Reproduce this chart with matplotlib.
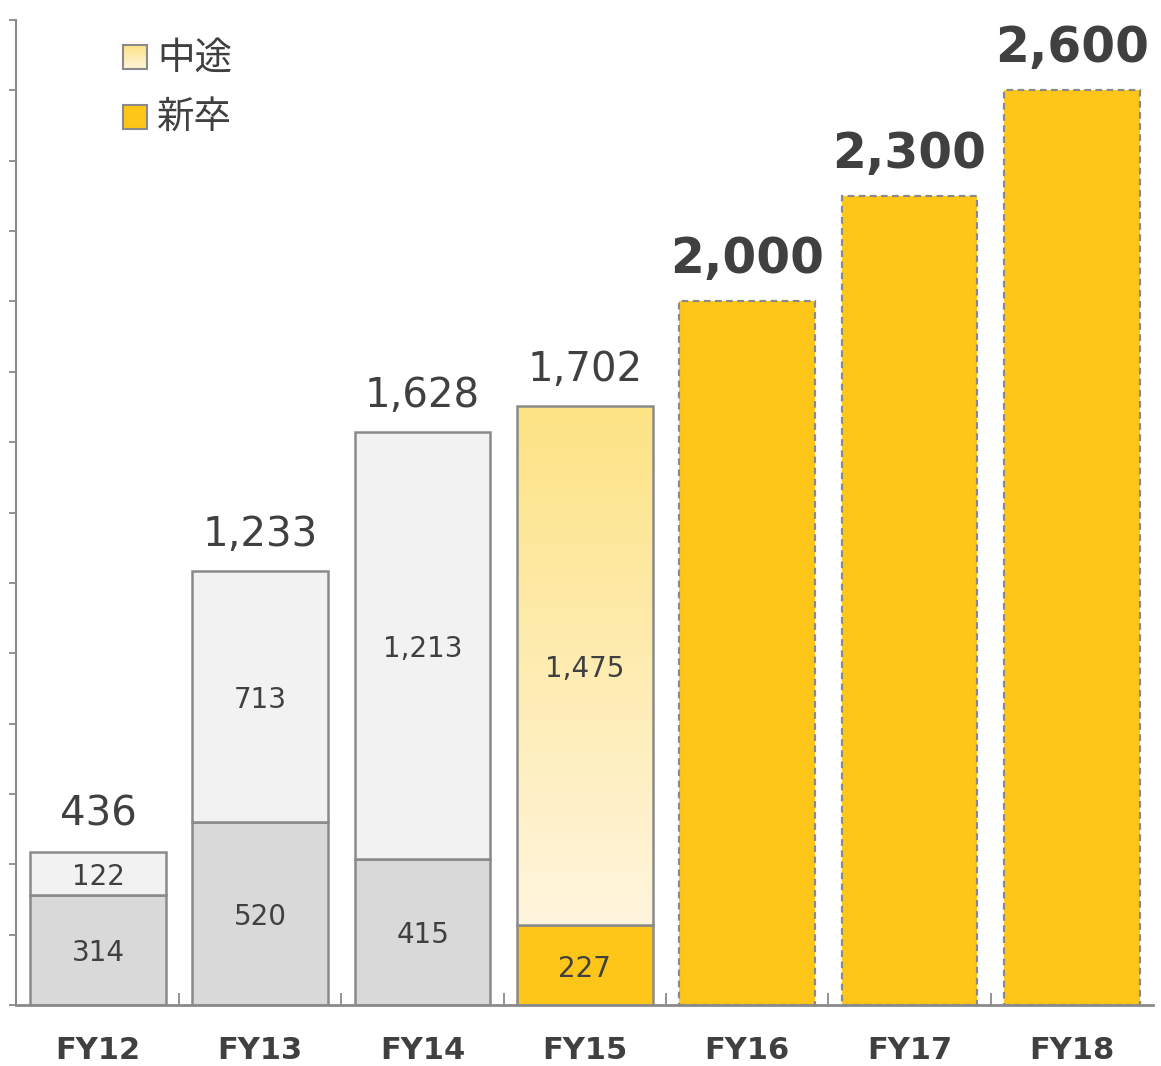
import matplotlib
matplotlib.use("Agg")
import matplotlib.pyplot as plt
import numpy as np
from matplotlib.patches import Rectangle
from matplotlib.colors import LinearSegmentedColormap

plt.rcParams['font.family'] = ['DejaVu Sans', 'Noto Sans CJK JP']

# ---- data ----
categories = ["FY12", "FY13", "FY14", "FY15", "FY16", "FY17", "FY18"]
new_grad = [314, 520, 415, 227, 2000, 2300, 2600]        # 新卒 (bottom)
mid_career = [122, 713, 1213, 1475, 0, 0, 0]            # 中途 (top)
totals = [436, 1233, 1628, 1702, 2000, 2300, 2600]
total_labels = ["436", "1,233", "1,628", "1,702", "2,000", "2,300", "2,600"]
bottom_labels = ["314", "520", "415", "227", "", "", ""]
top_labels = ["122", "713", "1,213", "1,475", "", "", ""]
legend_labels = ["中途", "新卒"]

# ---- style ----
GREY_BOTTOM = "#d9d9d9"
GREY_TOP = "#f2f2f2"
YELLOW = "#ffc61a"
EDGE = "#8a8a8a"
TEXT = "#404040"
forecast = [False, False, False, False, True, True, True]
highlight_idx = 3

fig = plt.figure(figsize=(11.61, 10.66), dpi=100)
ax = fig.add_axes([16 / 1161, 61 / 1066, (1153 - 16) / 1161, (1005 - 20) / 1066])

x = np.arange(len(categories))
width = 0.836

for i in range(len(categories)):
    if forecast[i]:
        ax.bar(x[i], new_grad[i], width, color=YELLOW, edgecolor=EDGE,
               linewidth=1.6, linestyle=(0, (3, 2)), zorder=2)
        continue
    bcol = YELLOW if i == highlight_idx else GREY_BOTTOM
    ax.bar(x[i], new_grad[i], width, color=bcol, edgecolor=EDGE, linewidth=1.8, zorder=2)
    if i == highlight_idx:
        bars = ax.bar(x[i], mid_career[i], width, bottom=new_grad[i], color="none",
                      edgecolor=EDGE, linewidth=1.8, zorder=3)
        cmap = LinearSegmentedColormap.from_list("g", ["#fff5dd", "#fde385"])
        grad = np.linspace(0, 1, 256).reshape(-1, 1)
        im = ax.imshow(grad, cmap=cmap, aspect='auto', origin='lower',
                       extent=(x[i] - width / 2, x[i] + width / 2,
                               new_grad[i], new_grad[i] + mid_career[i]), zorder=2)
        im.set_clip_path(bars[0])
    else:
        ax.bar(x[i], mid_career[i], width, bottom=new_grad[i], color=GREY_TOP,
               edgecolor=EDGE, linewidth=1.8, zorder=2)

# inner labels
for i in range(len(categories)):
    if bottom_labels[i]:
        ax.annotate(bottom_labels[i], (x[i], new_grad[i] / 2), xytext=(0, -2.5),
                    textcoords='offset points', ha='center', va='center',
                    fontsize=20, color=TEXT, zorder=5)
    if top_labels[i]:
        ax.annotate(top_labels[i], (x[i], new_grad[i] + mid_career[i] / 2), xytext=(0, -2.5),
                    textcoords='offset points', ha='center', va='center',
                    fontsize=20, color=TEXT, zorder=5)

# totals
for i in range(len(categories)):
    if forecast[i]:
        ax.annotate(total_labels[i], (x[i], totals[i]), xytext=(0, 13),
                    textcoords='offset points', ha='center', va='bottom',
                    fontsize=35, fontweight='bold', color=TEXT, annotation_clip=False)
    else:
        ax.annotate(total_labels[i], (x[i], totals[i]), xytext=(0, 12),
                    textcoords='offset points', ha='center', va='bottom',
                    fontsize=29, color=TEXT, annotation_clip=False)

ax.set_xlim(-0.505, 6.5)
ax.set_ylim(0, 2800)
ax.set_yticks(np.arange(0, 2801, 200))
ax.set_yticklabels([])
ax.set_xticks(x)
ax.set_xticklabels(categories, fontsize=22, fontweight='bold', color=TEXT)
ax.set_xticks(np.arange(0.5, 6, 1), minor=True)
ax.tick_params(axis='x', which='major', length=0, pad=22)
ax.tick_params(axis='x', which='minor', direction='in', length=9, width=1.3, color=EDGE)
ax.tick_params(axis='y', direction='out', length=5, width=1.3, color=EDGE)

for s in ['top', 'right']:
    ax.spines[s].set_visible(False)
ax.spines['left'].set_color(EDGE)
ax.spines['left'].set_linewidth(1.5)
ax.spines['bottom'].set_color(EDGE)
ax.spines['bottom'].set_linewidth(2)
ax.spines['bottom'].set_zorder(4)

# legend (manual, in axes fraction)
def fx(px):
    return (px - 16) / (1153 - 16)
def fy(py):
    return (1005 - py) / (1005 - 20)

ax.imshow(np.linspace(0, 1, 64).reshape(-1, 1),
          cmap=LinearSegmentedColormap.from_list("g2", ["#fff5dd", "#fde385"]),
          aspect='auto', origin='lower', transform=ax.transAxes,
          extent=(fx(123), fx(147), fy(69), fy(45)), zorder=6, clip_on=False)
ax.add_patch(Rectangle((fx(123), fy(69)), fx(147) - fx(123), fy(45) - fy(69),
                       transform=ax.transAxes, facecolor='none', edgecolor=EDGE,
                       linewidth=1.5, zorder=7, clip_on=False))
ax.add_patch(Rectangle((fx(123), fy(129)), fx(147) - fx(123), fy(105) - fy(129),
                       transform=ax.transAxes, facecolor=YELLOW, edgecolor=EDGE,
                       linewidth=1.5, zorder=7, clip_on=False))
ax.text(fx(157), fy(58), legend_labels[0], transform=ax.transAxes, ha='left', va='center',
        fontsize=27, color=TEXT, family=['Noto Sans CJK JP', 'DejaVu Sans'])
ax.text(fx(157), fy(118), legend_labels[1], transform=ax.transAxes, ha='left', va='center',
        fontsize=27, color=TEXT, family=['Noto Sans CJK JP', 'DejaVu Sans'])

fig.savefig("out.png", dpi=100)
